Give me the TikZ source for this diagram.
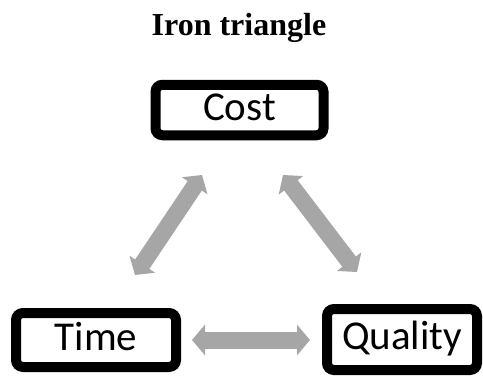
\documentclass[tikz,border=0pt]{standalone}
\usepackage{fontspec}
\setmainfont{Liberation Serif}
\newfontfamily\boxfont{Carlito}
\usetikzlibrary{arrows.meta}
\definecolor{arrowgray}{HTML}{A6A6A6}
\tikzset{
  corner/.style={draw=black, line width=10pt, rounded corners=7pt, fill=white,
    inner sep=0pt, outer sep=0pt, font=\boxfont\fontsize{41}{41}\selectfont,
    text height=26.7pt, text depth=6.2pt},
  linkarrow/.style={draw=arrowgray, line width=17pt,
    {Triangle[width=30pt,length=13pt]}-{Triangle[width=30pt,length=13pt]}},
  heading/.style={font=\bfseries\fontsize{32}{32}\selectfont, anchor=base}
}
\begin{document}
\begin{tikzpicture}[x=1pt,y=-1pt]
  \useasboundingbox (0,0) rectangle (483,380);
  % title
  \node[heading] (title) at (239,35) {Iron triangle};
  % the three constraints
  \node[corner, minimum width=168pt, minimum height=50.5pt] (cost) at (239.5,110) {Cost};
  \node[corner, minimum width=160pt, minimum height=54pt] (time) at (96,340) {Time};
  \node[corner, minimum width=150pt, minimum height=61pt] (quality) at (402,339.5) {Quality};
  % arrow ends
  \coordinate (tcA) at (135,275);
  \coordinate (tcB) at (202,175);
  \coordinate (cqA) at (283,175);
  \coordinate (cqB) at (357,272);
  \coordinate (tqA) at (192,340);
  \coordinate (tqB) at (310,340);
  % two-way links
  \draw[linkarrow] (tcA) -- (tcB);
  \draw[linkarrow] (cqA) -- (cqB);
  \draw[linkarrow] (tqA) -- (tqB);
\end{tikzpicture}
\end{document}
